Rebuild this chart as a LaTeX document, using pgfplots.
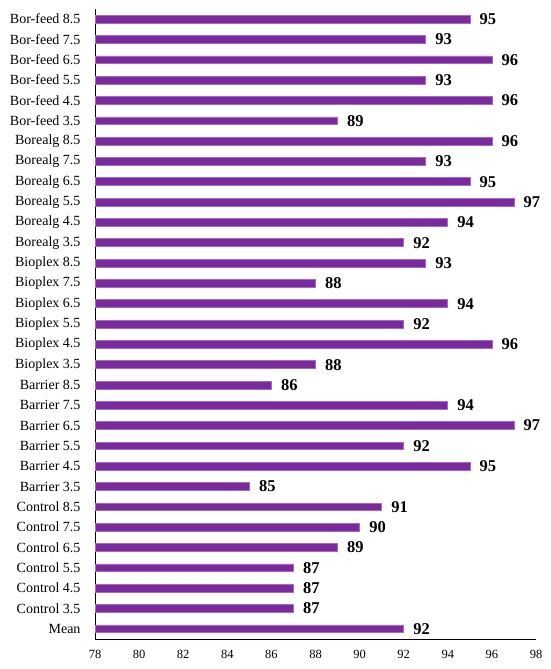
\documentclass[border=0pt]{standalone}
\usepackage{fontspec}
\setmainfont{Liberation Serif}
\usepackage{pgfplots}
\pgfplotsset{compat=1.18}
\definecolor{barpurple}{HTML}{7B2A9E}
\definecolor{baredge}{HTML}{A46BC4}
\begin{document}
\begin{tikzpicture}[x=1pt,y=1pt]
\useasboundingbox (0,0) rectangle (550,669);
\begin{axis}[
  at={(95pt,30pt)}, anchor=south west,
  scale only axis, width=441pt, height=630pt,
  xbar, bar width=7.8pt, bar shift=0pt,
  xmin=78, xmax=98, ymin=-0.5, ymax=30.5,
  xtick={78,80,...,98},
  ytick={0,...,30},
  yticklabels={Mean,Control 3.5,Control 4.5,Control 5.5,Control 6.5,Control 7.5,Control 8.5,
    Barrier 3.5,Barrier 4.5,Barrier 5.5,Barrier 6.5,Barrier 7.5,Barrier 8.5,
    Bioplex 3.5,Bioplex 4.5,Bioplex 5.5,Bioplex 6.5,Bioplex 7.5,Bioplex 8.5,
    Borealg 3.5,Borealg 4.5,Borealg 5.5,Borealg 6.5,Borealg 7.5,Borealg 8.5,
    Bor-feed 3.5,Bor-feed 4.5,Bor-feed 5.5,Bor-feed 6.5,Bor-feed 7.5,Bor-feed 8.5},
  axis x line*=bottom, axis y line*=left,
  axis line style={black, line width=0.9pt, -},
  major tick length=0pt,
  yticklabel style={font=\fontsize{14}{16}\selectfont, xshift=-11pt},
  xticklabel={\fontsize{12.5}{14}\selectfont\pgfmathprintnumber{\tick}},
  xticklabel style={yshift=-8pt},
  /pgf/number format/assume math mode=true,
  nodes near coords,
  nodes near coords style={font=\fontsize{16.5}{18}\selectfont\bfseries, anchor=west, xshift=6pt, black},
  clip=false,
]
\addplot[fill=barpurple, draw=baredge, line width=0.7pt] coordinates {
(92,0) (87,1) (87,2) (87,3) (89,4) (90,5) (91,6)
(85,7) (95,8) (92,9) (97,10) (94,11) (86,12)
(88,13) (96,14) (92,15) (94,16) (88,17) (93,18)
(92,19) (94,20) (97,21) (95,22) (93,23) (96,24)
(89,25) (96,26) (93,27) (96,28) (93,29) (95,30)
};
\end{axis}
\end{tikzpicture}
\end{document}
